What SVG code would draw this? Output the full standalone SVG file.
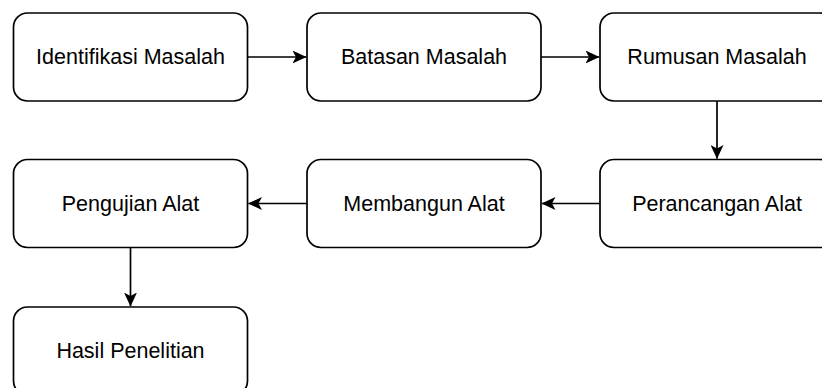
<svg xmlns="http://www.w3.org/2000/svg" width="822" height="388" viewBox="0 0 822 388">
<style>
.box{fill:#fff;stroke:#000;stroke-width:1.7}
.lbl{font-family:"Liberation Sans",Arial,sans-serif;font-size:21.5px;fill:#000;text-anchor:middle;dominant-baseline:central}
.edge{fill:none;stroke:#000;stroke-width:1.7}
</style>
<defs>
<marker id="arr" viewBox="0 0 14 13" refX="13.5" refY="6.5" markerWidth="14" markerHeight="13" markerUnits="userSpaceOnUse" orient="auto">
<path d="M0,0 L14,6.5 L0,13 L3.5,6.5 Z" fill="#000"/>
</marker>
</defs>
<rect width="822" height="388" fill="#fff"/>
<g id="n1"><rect class="box" x="13.5" y="13" width="234" height="88" rx="14"/><text class="lbl" x="130.5" y="57">Identifikasi Masalah</text></g>
<g id="n2"><rect class="box" x="307" y="13" width="234" height="88" rx="14"/><text class="lbl" x="424" y="57">Batasan Masalah</text></g>
<g id="n3"><rect class="box" x="600" y="13" width="234" height="88" rx="14"/><text class="lbl" x="717" y="57">Rumusan Masalah</text></g>
<g id="n4"><rect class="box" x="600" y="159.5" width="234" height="88" rx="14"/><text class="lbl" x="717" y="203.5">Perancangan Alat</text></g>
<g id="n5"><rect class="box" x="307" y="159.5" width="234" height="88" rx="14"/><text class="lbl" x="424" y="203.5">Membangun Alat</text></g>
<g id="n6"><rect class="box" x="13.5" y="159.5" width="234" height="88" rx="14"/><text class="lbl" x="130.5" y="203.5">Pengujian Alat</text></g>
<g id="n7"><rect class="box" x="13.5" y="307" width="234" height="88" rx="14"/><text class="lbl" x="130.5" y="351">Hasil Penelitian</text></g>
<g id="edges">
<line class="edge" x1="247.5" y1="57" x2="306" y2="57" marker-end="url(#arr)"/>
<line class="edge" x1="541" y1="57" x2="599" y2="57" marker-end="url(#arr)"/>
<line class="edge" x1="717" y1="101" x2="717" y2="158.5" marker-end="url(#arr)"/>
<line class="edge" x1="600" y1="203.5" x2="542" y2="203.5" marker-end="url(#arr)"/>
<line class="edge" x1="307" y1="203.5" x2="248.5" y2="203.5" marker-end="url(#arr)"/>
<line class="edge" x1="130.5" y1="247.5" x2="130.5" y2="306" marker-end="url(#arr)"/>
</g>
</svg>
